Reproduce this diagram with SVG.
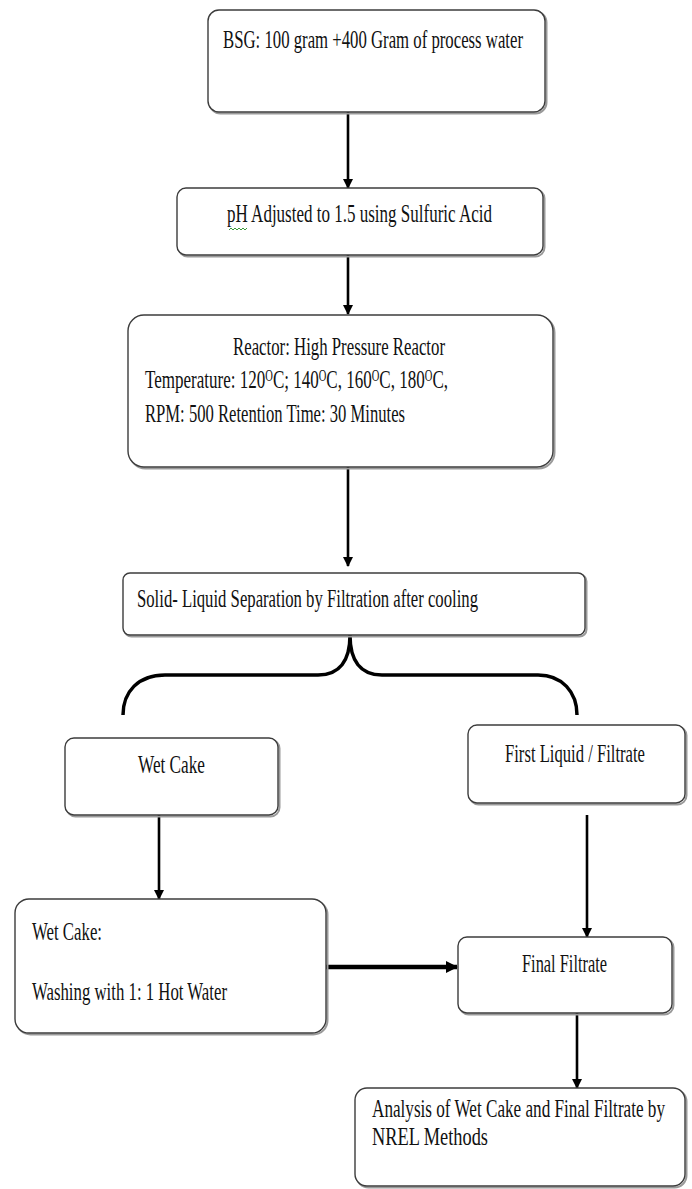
<svg xmlns="http://www.w3.org/2000/svg" width="692" height="1189" viewBox="0 0 692 1189">
<defs>
<style>
.box{fill:#fff;stroke:#3c3c3c;stroke-width:1.4}
.sh{fill:none;stroke:#9a9a9a;stroke-width:2}
.t{font-family:"Liberation Serif","Times New Roman",serif;font-size:17px;fill:#111}
.ln{stroke:#000;stroke-width:2.6;fill:none}
.thick{stroke:#000;stroke-width:4.5;fill:none}
.brace{stroke:#000;stroke-width:3.5;fill:none}
.sup{font-size:10.5px}
</style>
<marker id="ah" markerWidth="10" markerHeight="10" refX="9" refY="5" orient="auto" markerUnits="userSpaceOnUse">
<path d="M0,0 L10,5 L0,10 Z" fill="#000"/>
</marker>
<marker id="ah2" markerWidth="12" markerHeight="12" refX="11" refY="6" orient="auto" markerUnits="userSpaceOnUse">
<path d="M0,0 L12,6 L0,12 Z" fill="#000"/>
</marker>
</defs>
<rect width="692" height="1189" fill="#fff"/>

<g id="connectors">
<line class="ln" x1="348" y1="112" x2="348" y2="188" marker-end="url(#ah)"/>
<line class="ln" x1="348" y1="255" x2="348" y2="314" marker-end="url(#ah)"/>
<line class="ln" x1="348" y1="467" x2="348" y2="566" marker-end="url(#ah)"/>
<path class="brace" d="M123,715 C123,692 138,675 165,675 L318,675 C340,675 350,660 350,635 C350,660 360,675 382,675 L538,675 C562,675 577,692 577,715"/>
<line class="ln" x1="159" y1="815" x2="159" y2="899" marker-end="url(#ah)"/>
<line class="ln" x1="587" y1="815" x2="587" y2="937" marker-end="url(#ah)"/>
<line class="thick" x1="326" y1="967" x2="457" y2="967" marker-end="url(#ah2)"/>
<line class="ln" x1="577" y1="1013" x2="577" y2="1088" marker-end="url(#ah)"/>
</g>

<g id="n1">
<rect class="sh" x="209.5" y="11.5" width="337" height="102" rx="11"/>
<rect class="box" x="208" y="10" width="337" height="102" rx="11"/>
<text class="t" transform="translate(223,48) scale(1,1.5)" x="0" y="0" textLength="300" lengthAdjust="spacingAndGlyphs">BSG: 100 gram +400 Gram of process water</text>
</g>

<g id="n2">
<rect class="sh" x="178.5" y="189.5" width="366" height="67" rx="9"/>
<rect class="box" x="177" y="188" width="366" height="67" rx="9"/>
<text class="t" transform="translate(227,222) scale(1,1.5)" x="0" y="0" textLength="265" lengthAdjust="spacingAndGlyphs">pH Adjusted to 1.5 using Sulfuric Acid</text>
<path d="M229,230 l2,-2 l2,2 l2,-2 l2,2 l2,-2 l2,2 l2,-2 l2,2 l2,-2" fill="none" stroke="#3a9a3a" stroke-width="1"/>
</g>

<g id="n3">
<rect class="sh" x="129.5" y="316.5" width="425" height="152" rx="16"/>
<rect class="box" x="128" y="315" width="425" height="152" rx="16"/>
<text class="t" transform="translate(233,355) scale(1,1.5)" x="0" y="0" textLength="212" lengthAdjust="spacingAndGlyphs">Reactor: High Pressure Reactor</text>
<text class="t" transform="translate(145,388) scale(1,1.5)" x="0" y="0" textLength="303" lengthAdjust="spacingAndGlyphs">Temperature: 120<tspan class="sup" dy="-5">O</tspan><tspan dy="5">C; 140</tspan><tspan class="sup" dy="-5">O</tspan><tspan dy="5">C, 160</tspan><tspan class="sup" dy="-5">O</tspan><tspan dy="5">C, 180</tspan><tspan class="sup" dy="-5">O</tspan><tspan dy="5">C,</tspan></text>
<text class="t" transform="translate(145,422) scale(1,1.5)" x="0" y="0" textLength="260" lengthAdjust="spacingAndGlyphs">RPM: 500 Retention Time: 30 Minutes</text>
</g>

<g id="n4">
<rect class="sh" x="124.5" y="574.5" width="462" height="62" rx="7"/>
<rect class="box" x="123" y="573" width="462" height="62" rx="7"/>
<text class="t" transform="translate(137,607) scale(1,1.5)" x="0" y="0" textLength="341" lengthAdjust="spacingAndGlyphs">Solid- Liquid Separation by Filtration after cooling</text>
</g>

<g id="n5">
<rect class="sh" x="66.5" y="739.5" width="213" height="77" rx="9"/>
<rect class="box" x="65" y="738" width="213" height="77" rx="9"/>
<text class="t" transform="translate(138,773) scale(1,1.5)" x="0" y="0" textLength="67" lengthAdjust="spacingAndGlyphs">Wet Cake</text>
</g>

<g id="n6">
<rect class="sh" x="469.5" y="726.5" width="217" height="78" rx="9"/>
<rect class="box" x="468" y="725" width="217" height="78" rx="9"/>
<text class="t" transform="translate(505,762) scale(1,1.5)" x="0" y="0" textLength="140" lengthAdjust="spacingAndGlyphs">First Liquid / Filtrate</text>
</g>

<g id="n7">
<rect class="sh" x="16.5" y="900.5" width="311" height="134" rx="14"/>
<rect class="box" x="15" y="899" width="311" height="134" rx="14"/>
<text class="t" transform="translate(32,940) scale(1,1.5)" x="0" y="0" textLength="70" lengthAdjust="spacingAndGlyphs">Wet Cake:</text>
<text class="t" transform="translate(32,1000) scale(1,1.5)" x="0" y="0" textLength="195" lengthAdjust="spacingAndGlyphs">Washing with 1: 1 Hot Water</text>
</g>

<g id="n8">
<rect class="sh" x="459.5" y="938.5" width="214" height="76" rx="9"/>
<rect class="box" x="458" y="937" width="214" height="76" rx="9"/>
<text class="t" transform="translate(522,972) scale(1,1.5)" x="0" y="0" textLength="85" lengthAdjust="spacingAndGlyphs">Final Filtrate</text>
</g>

<g id="n9">
<rect class="sh" x="356.5" y="1089.5" width="330" height="98" rx="12"/>
<rect class="box" x="355" y="1088" width="330" height="98" rx="12"/>
<text class="t" transform="translate(372,1117) scale(1,1.5)" x="0" y="0" textLength="293" lengthAdjust="spacingAndGlyphs">Analysis of Wet Cake and Final Filtrate by</text>
<text class="t" transform="translate(372,1145) scale(1,1.5)" x="0" y="0" textLength="116" lengthAdjust="spacingAndGlyphs">NREL Methods</text>
</g>
</svg>
